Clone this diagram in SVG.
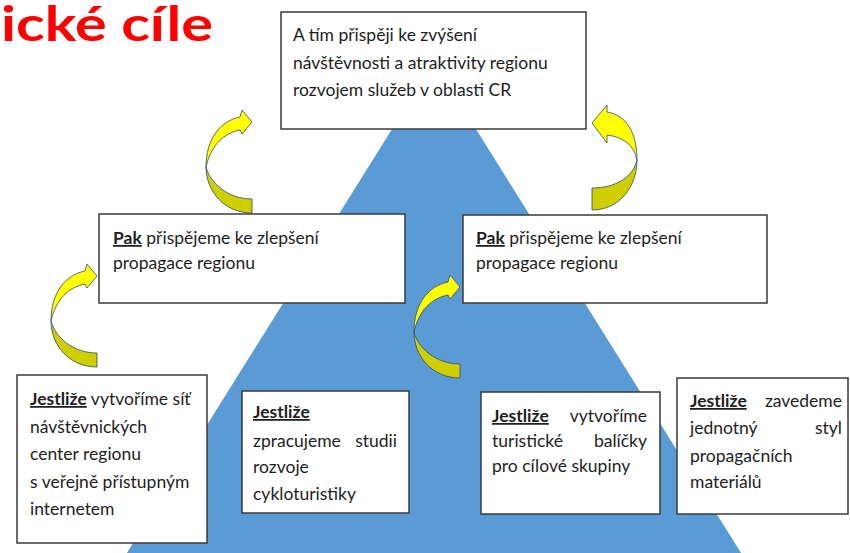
<svg xmlns="http://www.w3.org/2000/svg" xmlns:xlink="http://www.w3.org/1999/xlink" width="850" height="553" viewBox="0 0 850 553">
<style>
.box{fill:#fff;stroke:#3a3a3a;stroke-width:1.5}
.t{font-family:Lato,"Noto Sans","Liberation Sans",sans-serif;font-size:17.5px;fill:#1e1e1e}
.b{font-weight:bold;text-decoration:underline}
.title{font-family:Lato,"Liberation Sans",sans-serif;font-weight:bold;font-size:48px;fill:#ff0000}
.lo{fill:#cfcf00;stroke:#2f4a6e;stroke-width:0.8}
.hi{fill:#ffff00;stroke:#2f4a6e;stroke-width:0.8}
</style>
<defs>
<g id="arrowR">
<path class="lo" d="M0,0 C-28,0 -46,-22 -46,-46 C-42,-30 -24,-14 0,-14 Z"/>
<path class="hi" d="M-46,-46 C-46,-74 -32,-92 -12,-96 L-10,-103 L0,-91 L-10,-79 L-12,-83 C-28,-80 -41,-68 -46,-46 Z"/>
</g>
<g id="arrowBig">
<path class="lo" d="M0,0 C-28,0 -45,-24 -45,-50 C-41,-33 -24,-22 0,-22 Z"/>
<path class="hi" d="M-45,-50 C-45,-78 -34,-95 -15,-98 L-15,-105 L0,-87 L-15,-67 L-15,-75 C-30,-73 -42,-66 -45,-50 Z"/>
</g>
</defs>
<polygon id="pyramid" points="434,62 85,620 783,620" fill="#5b9bd5"/>
<text class="title" x="1" y="41" textLength="212" lengthAdjust="spacingAndGlyphs">ické cíle</text>
<g id="connectors">
<use xlink:href="#arrowR" transform="translate(252,213)"/>
<use xlink:href="#arrowBig" transform="translate(592,210) scale(-1,1)"/>
<use xlink:href="#arrowR" transform="translate(97,367)"/>
<use xlink:href="#arrowR" transform="translate(460,378)"/>
</g>
<g id="top">
<rect class="box" x="281" y="12" width="305" height="117"/>
<text class="t" x="293" y="41">A tím přispěji ke zvýšení</text>
<text class="t" x="293" y="69">návštěvnosti a atraktivity regionu</text>
<text class="t" x="293" y="96">rozvojem služeb v oblasti CR</text>
</g>
<g id="pak-left">
<rect class="box" x="99" y="214" width="306" height="89"/>
<text class="t" x="113" y="244"><tspan class="b">Pak</tspan> přispějeme ke zlepšení</text>
<text class="t" x="113" y="269">propagace regionu</text>
</g>
<g id="pak-right">
<rect class="box" x="463" y="215" width="304" height="88"/>
<text class="t" x="476" y="244"><tspan class="b">Pak</tspan> přispějeme ke zlepšení</text>
<text class="t" x="476" y="269">propagace regionu</text>
</g>
<g id="if1">
<rect class="box" x="17" y="375" width="190" height="168"/>
<text class="t" x="30" y="405"><tspan class="b">Jestliže</tspan> vytvoříme síť</text>
<text class="t" x="30" y="433">návštěvnických</text>
<text class="t" x="30" y="460">center regionu</text>
<text class="t" x="30" y="488">s veřejně přístupným</text>
<text class="t" x="30" y="515">internetem</text>
</g>
<g id="if2">
<rect class="box" x="242" y="391" width="167" height="122"/>
<text class="t b" x="253" y="418">Jestliže</text>
<text class="t" x="253" y="447">zpracujeme</text>
<text class="t" x="397" y="447" text-anchor="end">studii</text>
<text class="t" x="253" y="473">rozvoje</text>
<text class="t" x="253" y="500">cykloturistiky</text>
</g>
<g id="if3">
<rect class="box" x="481" y="392" width="179" height="122"/>
<text class="t b" x="492" y="422">Jestliže</text>
<text class="t" x="647" y="422" text-anchor="end">vytvoříme</text>
<text class="t" x="492" y="447">turistické</text>
<text class="t" x="647" y="447" text-anchor="end">balíčky</text>
<text class="t" x="492" y="472">pro cílové skupiny</text>
</g>
<g id="if4">
<rect class="box" x="677" y="378" width="171" height="136"/>
<text class="t b" x="690" y="407">Jestliže</text>
<text class="t" x="842" y="407" text-anchor="end">zavedeme</text>
<text class="t" x="690" y="434">jednotný</text>
<text class="t" x="842" y="434" text-anchor="end">styl</text>
<text class="t" x="690" y="462">propagačních</text>
<text class="t" x="690" y="488">materiálů</text>
</g>
</svg>
